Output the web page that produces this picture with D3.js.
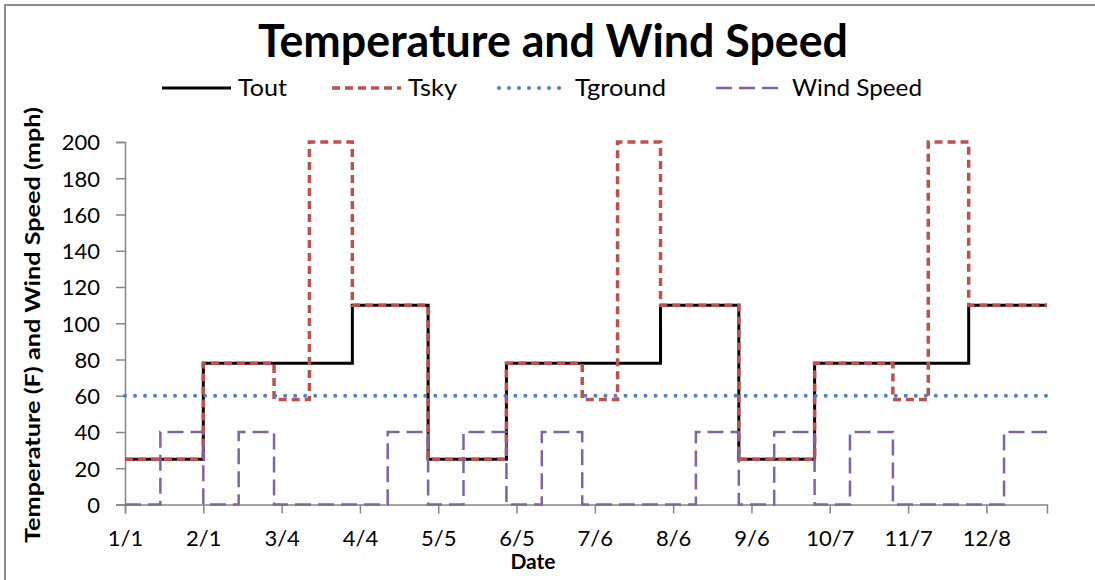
<!DOCTYPE html>
<html>
<head>
<meta charset="utf-8">
<script src="https://cdn.jsdelivr.net/npm/d3@7"></script>
<style>
  html, body { margin: 0; padding: 0; background: #fff; }
  #container { width: 1095px; height: 580px; }
  text { font-family: Lato, "Open Sans", sans-serif; }
</style>
</head>
<body>
<div id="container"></div>
<script>
// data (semi-monthly steps)
const dates = ["1/1/2013", "1/15/2013", "2/1/2013", "2/15/2013", "3/1/2013", "3/15/2013", "4/1/2013", "4/15/2013",
  "5/1/2013", "5/15/2013", "6/1/2013", "6/15/2013", "7/1/2013", "7/15/2013", "8/1/2013", "8/15/2013",
  "9/1/2013", "9/15/2013", "10/1/2013", "10/15/2013", "11/1/2013", "11/15/2013", "12/1/2013", "12/15/2013", "1/1/2014"];
const tout = [25, 25, 78, 78, 78, 78, 110, 110, 25, 25, 78, 78, 78, 78, 110, 110, 25, 25, 78, 78, 78, 78, 110, 110, 110];
const tsky = [25, 25, 78, 78, 58, 200, 110, 110, 25, 25, 78, 78, 58, 200, 110, 110, 25, 25, 78, 78, 58, 200, 110, 110, 110];
const tground = [60, 60, 60, 60, 60, 60, 60, 60, 60, 60, 60, 60, 60, 60, 60, 60, 60, 60, 60, 60, 60, 60, 60, 60, 60];
const windSpeed = [0, 40, 0, 40, 0, 0, 0, 40, 0, 40, 0, 40, 0, 0, 0, 40, 0, 40, 0, 40, 0, 0, 0, 40, 40];

const xTickLabels = ["1/1", "2/1", "3/4", "4/4", "5/5", "6/5", "7/6", "8/6", "9/6", "10/7", "11/7", "12/8"];
const yTicks = [0, 20, 40, 60, 80, 100, 120, 140, 160, 180, 200];
const xDomain = ["1/1/2013", "1/1/2014"];

const width = 1095;
const height = 580;
const rootElem = d3.select("#container").node();
render(rootElem, width, height);

function render(rootElem, width, height) {
  const parseDay = d3.utcParse("%m/%d/%Y");

  // series
  const series = [
    { name: "Tout", values: tout, color: "#000000", width: 3, dash: null, cap: "butt" },
    { name: "Tsky", values: tsky, color: "#C0504D", width: 3.5, dash: "8,5", cap: "butt" },
    { name: "Tground", values: tground, color: "#4F81BD", width: 4, dash: "0.01,10", cap: "round" },
    { name: "Wind Speed", values: windSpeed, color: "#8064A2", width: 2.5, dash: "16,7", cap: "butt" },
  ];

  // layout
  const plot = { left: 125, right: 1047, top: 142, bottom: 504.5 };
  const legendX = [162, 332, 499, 716];
  const legendTextWidth = [49, 49, 91, 130];
  const legendY = 88;

  const svg = d3.select(rootElem)
    .append("svg")
    .attr("width", width)
    .attr("height", height)
    .attr("viewBox", `0 0 ${width} ${height}`);

  // chart border (only top/left visible)
  svg.append("path")
    .attr("d", `M5,${height} V5 H${width}`)
    .attr("fill", "none")
    .attr("stroke", "#8c8c8c")
    .attr("stroke-width", 2);

  // scales
  const scaleX = d3.scaleUtc()
    .domain(xDomain.map(s => parseDay(s)))
    .range([plot.left, plot.right]);
  const scaleY = d3.scaleLinear()
    .domain([0, 200])
    .range([plot.bottom, plot.top]);

  // axes
  const axisColor = "#868686";
  const gx = svg.append("g")
    .attr("class", "groupAxisX")
    .attr("transform", `translate(0, ${plot.bottom})`)
    .call(d3.axisBottom(scaleX)
      .tickValues(xTickLabels.map(l => parseDay(l + "/2013")))
      .tickFormat((d, i) => xTickLabels[i])
      .tickSizeOuter(0)
      .tickSize(9)
      .tickPadding(17));
  const gy = svg.append("g")
    .attr("class", "groupAxisY")
    .attr("transform", `translate(${plot.left}, 0)`)
    .call(d3.axisLeft(scaleY)
      .tickValues(yTicks)
      .tickSizeOuter(0)
      .tickSize(9)
      .tickPadding(16));
  [gx, gy].forEach(g => {
    g.select(".domain").attr("stroke", axisColor).attr("stroke-width", 1.5);
    g.selectAll(".tick line").attr("stroke", axisColor).attr("stroke-width", 1.5);
    g.selectAll(".tick text")
      .attr("fill", "#000")
      .style("font-family", "Lato, sans-serif")
      .style("font-size", "22px");
  });
  gy.selectAll(".tick text").attr("dy", "0.36em");

  // lines
  const groupMain = svg.append("g").attr("class", "groupMarks");
  const line = d3.line()
    .x(d => scaleX(d.date))
    .y(d => scaleY(d.value))
    .curve(d3.curveStepAfter);
  groupMain.selectAll("path")
    .data(series)
    .join("path")
    .attr("fill", "none")
    .attr("stroke", d => d.color)
    .attr("stroke-width", d => d.width)
    .attr("stroke-dasharray", d => d.dash)
    .attr("stroke-linecap", d => d.cap)
    .attr("d", s => line(s.values.map((v, i) => ({ date: parseDay(dates[i]), value: v }))));

  // title
  svg.append("text")
    .text("Temperature and Wind Speed")
    .attr("x", 553)
    .attr("y", 57)
    .attr("text-anchor", "middle")
    .attr("textLength", 590)
    .attr("lengthAdjust", "spacingAndGlyphs")
    .style("font-size", "46px")
    .style("font-weight", "bold");

  // axis titles
  svg.append("text")
    .text("Date")
    .attr("x", 533)
    .attr("y", 569)
    .attr("text-anchor", "middle")
    .style("font-size", "21px")
    .style("font-weight", "bold");
  svg.append("text")
    .text("Temperature (F) and Wind Speed (mph)")
    .attr("transform", "translate(40, 325) rotate(-90)")
    .attr("text-anchor", "middle")
    .attr("textLength", 436)
    .attr("lengthAdjust", "spacingAndGlyphs")
    .style("font-size", "21px")
    .style("font-weight", "bold");

  // legend
  const groupLegend = svg.append("g").attr("class", "groupLegend");
  const items = groupLegend.selectAll("g")
    .data(series)
    .join("g")
    .attr("transform", (d, i) => `translate(${legendX[i]}, ${legendY})`);
  items.append("line")
    .attr("x1", 0)
    .attr("x2", 69)
    .attr("stroke", d => d.color)
    .attr("stroke-width", d => d.width)
    .attr("stroke-dasharray", d => d.dash)
    .attr("stroke-linecap", d => d.cap);
  items.append("text")
    .text(d => d.name)
    .attr("x", 76)
    .attr("dy", "0.36em")
    .attr("textLength", (d, i) => legendTextWidth[i])
    .attr("lengthAdjust", "spacingAndGlyphs")
    .style("font-size", "23px");
}
</script>
</body>
</html>
